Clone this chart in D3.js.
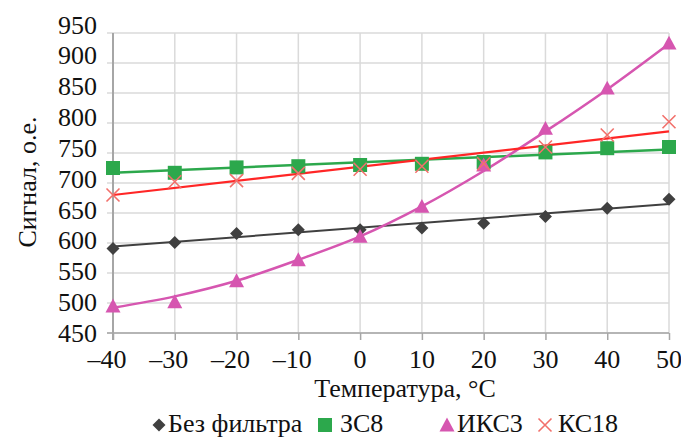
<!DOCTYPE html>
<html>
<head>
<meta charset="utf-8">
<script src="https://cdn.jsdelivr.net/npm/d3@7"></script>
<style>
  body { margin: 0; background: #fff; }
</style>
</head>
<body>
<div id="chart"></div>
<script>
// data
const temps = [-40, -30, -20, -10, 0, 10, 20, 30, 40, 50];
const xTickLabels = ["–40", "–30", "–20", "–10", "0", "10", "20", "30", "40", "50"];
const yTicks = [450, 500, 550, 600, 650, 700, 750, 800, 850, 900, 950];

const bezFiltra = [591, 601, 616, 622, 622, 625, 633, 644, 658, 673];
const zs8 = [725, 717, 726, 728, 730, 732, 735, 751, 758, 760];
const iks3 = [495, 502, 537, 572, 611, 661, 730, 791, 858, 933];
const ks18 = [680, 702, 704, 716, 723, 728, 732, 760, 780, 802];

// trend lines (linear ones by their end values, the curved one at every tick)
const trendEnds = [-40, 50];
const bezFiltraTrend = [594, 665];
const zs8Trend = [717, 756];
const ks18Trend = [680, 786];
const iks3Trend = [492, 511, 537, 572, 611, 661, 720, 786, 856, 932];

const seriesNames = ["Без фильтра", "ЗС8", "ИКС3", "КС18"];

const FONT = "'Liberation Serif', 'DejaVu Serif', serif";

const margin = { top: 33, right: 12, bottom: 106, left: 113 };
const width = 681 - margin.left - margin.right;
const height = 439 - margin.top - margin.bottom;

const x = d3.scaleLinear().domain([-40, 50]).range([0, width]);
const y = d3.scaleLinear().domain([450, 950]).range([height, 0]);
// tick labels in the picture sit on a slightly wider spacing than the grid
const yLab = d3.scaleLinear().domain([450, 950]).range([height + 9, 0.6]);

const root = d3.select("#chart").append("svg")
    .attr("width", 681)
    .attr("height", 439)
    .style("font-family", FONT);

const svg = root.append("g")
    .attr("transform", `translate(${margin.left}, ${margin.top})`);

// gridlines
svg.append("g")
    .selectAll("line")
    .data(yTicks)
    .enter().append("line")
    .attr("x1", -6).attr("x2", width)
    .attr("y1", d => y(d)).attr("y2", d => y(d))
    .attr("stroke", "#dadada")
    .attr("stroke-width", 1.5);

svg.append("g")
    .selectAll("line")
    .data(temps.slice(1))
    .enter().append("line")
    .attr("x1", d => x(d)).attr("x2", d => x(d))
    .attr("y1", 0).attr("y2", height)
    .attr("stroke", "#dadada")
    .attr("stroke-width", 1.5);

// axes
svg.append("g")
    .attr("transform", `translate(0, ${height})`)
    .call(d3.axisBottom(x).tickValues(temps).tickSize(7).tickFormat(""))
    .call(g => g.select(".domain").remove())
    .selectAll("line")
    .attr("stroke", "#a6a6a6")
    .attr("stroke-width", 1.5);

svg.append("line")
    .attr("x1", -6).attr("x2", width)
    .attr("y1", height).attr("y2", height)
    .attr("stroke", "#a6a6a6")
    .attr("stroke-width", 1.5);

svg.append("line")
    .attr("x1", 0).attr("x2", 0)
    .attr("y1", 0).attr("y2", height + 7)
    .attr("stroke", "#a6a6a6")
    .attr("stroke-width", 2);

// tick labels
svg.append("g")
    .selectAll("text")
    .data(yTicks)
    .enter().append("text")
    .attr("x", -16)
    .attr("y", d => yLab(d))
    .attr("text-anchor", "end")
    .attr("font-family", FONT)
    .style("font-size", "26px")
    .attr("fill", "#111")
    .text(d => d);

svg.append("g")
    .selectAll("text")
    .data(temps)
    .enter().append("text")
    .attr("x", d => x(d) + (d < 0 ? -6 : 0))
    .attr("y", height + 35)
    .attr("text-anchor", "middle")
    .attr("font-family", FONT)
    .style("font-size", "26px")
    .attr("fill", "#111")
    .text((d, i) => xTickLabels[i]);

// axis titles
svg.append("text")
    .attr("x", 292)
    .attr("y", height + 64)
    .attr("text-anchor", "middle")
    .attr("font-family", FONT)
    .style("font-size", "26px")
    .attr("fill", "#111")
    .text("Температура, °C");

svg.append("text")
    .attr("transform", "rotate(-90)")
    .attr("x", -height / 2 + 1)
    .attr("y", -77)
    .attr("text-anchor", "middle")
    .attr("font-family", FONT)
    .style("font-size", "26px")
    .attr("fill", "#111")
    .text("Сигнал, о.е.");

// trend lines
const line = d3.line()
    .x(d => x(d[0]))
    .y(d => y(d[1]));

const drawTrend = (xs, ys, color, w, curve) => {
    svg.append("path")
        .datum(d3.zip(xs, ys))
        .attr("fill", "none")
        .attr("stroke", color)
        .attr("stroke-width", w)
        .attr("d", line.curve(curve || d3.curveLinear));
};

drawTrend(trendEnds, bezFiltraTrend, "#404040", 2);
drawTrend(trendEnds, zs8Trend, "#2ca84c", 2.5);
drawTrend(temps, iks3Trend, "#d656b0", 2.5, d3.curveCatmullRom);
drawTrend(trendEnds, ks18Trend, "#ff2626", 2.2);

// marker shapes
const diamond = s => `M0,${-s}L${s},0L0,${s}L${-s},0Z`;
const square = s => `M${-s},${-s}H${s}V${s}H${-s}Z`;
const triangle = s => `M0,${-s}L${s},${s * 0.85}H${-s}Z`;
const cross = s => `M${-s},${-s}L${s},${s}M${s},${-s}L${-s},${s}`;

const series = [
    { name: seriesNames[0], values: bezFiltra, shape: diamond(6.5), fill: "#404040", stroke: "none" },
    { name: seriesNames[1], values: zs8, shape: square(7), fill: "#2ca84c", stroke: "none" },
    { name: seriesNames[2], values: iks3, shape: triangle(7.5), fill: "#d656b0", stroke: "none" },
    { name: seriesNames[3], values: ks18, shape: cross(6.5), fill: "none", stroke: "#f2706b" }
];

series.forEach(s => {
    svg.append("g")
        .selectAll("path")
        .data(temps)
        .enter().append("path")
        .attr("transform", (d, i) => `translate(${x(d)}, ${y(s.values[i])})`)
        .attr("d", s.shape)
        .attr("fill", s.fill)
        .attr("stroke", s.stroke)
        .attr("stroke-width", 1.6);
});

// legend
const legendX = [159, 325, 447, 545];
const legendText = [168, 340, 457, 558];
const legend = root.append("g");
series.forEach((s, i) => {
    legend.append("path")
        .attr("transform", `translate(${legendX[i]}, 425)`)
        .attr("d", s.shape)
        .attr("fill", s.fill)
        .attr("stroke", s.stroke)
        .attr("stroke-width", 1.6);
    legend.append("text")
        .attr("x", legendText[i])
        .attr("y", 432)
        .attr("font-family", FONT)
        .style("font-size", "26px")
        .attr("fill", "#111")
        .text(s.name);
});
</script>
</body>
</html>
